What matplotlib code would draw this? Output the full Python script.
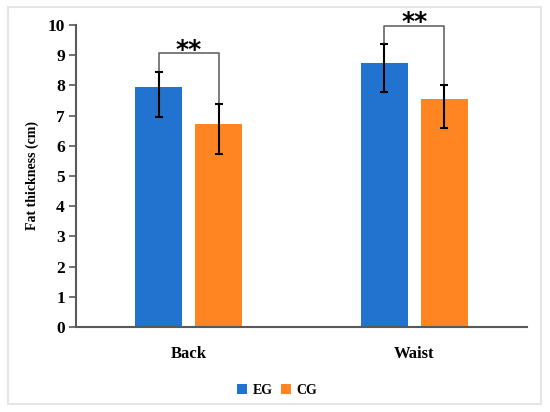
import numpy as np
import matplotlib
matplotlib.use("Agg")
import matplotlib.pyplot as plt
from matplotlib.patches import Rectangle

# data
sites = ["Back", "Waist"]
eg_mean = [7.96, 8.75]
eg_low = [6.96, 7.77]
eg_high = [8.43, 9.36]
cg_mean = [6.72, 7.56]
cg_low = [5.73, 6.59]
cg_high = [7.38, 8.02]
bracket_y = [9.07, 9.98]
stars = ["**", "**"]

blue = "#2273CF"
orange = "#FF8522"
spine_col = "#595959"

plt.rcParams['font.family'] = ['Liberation Serif', 'DejaVu Serif']
plt.rcParams['font.weight'] = 'bold'

fig = plt.figure(figsize=(5.5, 4.12), dpi=100)
ax = fig.add_axes([76 / 550, 85 / 412, 451 / 550, 302 / 412])

# light grey frame around the figure
fig.patches.append(Rectangle((8 / 550, 8 / 412), 533 / 550, 397 / 412,
                             transform=fig.transFigure, fill=False,
                             edgecolor="#e6e6e6", linewidth=1.5))

centers = np.array([0.5, 1.5])
off = 0.133
w = 0.21
x_eg = centers - off
x_cg = centers + off

eg_err = [np.array(eg_mean) - np.array(eg_low), np.array(eg_high) - np.array(eg_mean)]
cg_err = [np.array(cg_mean) - np.array(cg_low), np.array(cg_high) - np.array(cg_mean)]

ax.bar(x_eg, eg_mean, w, color=blue, label="EG", zorder=2)
ax.bar(x_cg, cg_mean, w, color=orange, label="CG", zorder=2)
ax.errorbar(x_eg, eg_mean, yerr=eg_err, fmt="none", ecolor="black",
            elinewidth=1.5, capsize=3, capthick=1.5, zorder=3)
ax.errorbar(x_cg, cg_mean, yerr=cg_err, fmt="none", ecolor="black",
            elinewidth=1.5, capsize=3, capthick=1.5, zorder=3)

# significance brackets, stars sit just above the bar of the bracket
for i in range(len(sites)):
    by = bracket_y[i]
    ax.plot([x_eg[i], x_eg[i], x_cg[i], x_cg[i]],
            [eg_high[i], by, by, cg_high[i]],
            color="#666666", linewidth=1.2, clip_on=False, zorder=1)
    ax.text(centers[i], by - 0.12, stars[i], ha="center", va="baseline",
            fontsize=18, fontweight="bold", family=["DejaVu Sans"],
            clip_on=False)

ax.set_xlim(0, 2)
ax.set_ylim(0, 10)
ax.set_yticks(range(0, 11))
ax.set_xticks(centers)
ax.set_xticklabels(sites, fontsize=12, fontweight="bold")
ax.tick_params(axis="x", length=0, pad=14)
ax.tick_params(axis="y", length=5, width=1.2, color=spine_col, labelsize=12.5, pad=3)
for lab in ax.get_yticklabels():
    lab.set_fontweight("bold")

for s in ["top", "right"]:
    ax.spines[s].set_visible(False)
for s in ["left", "bottom"]:
    ax.spines[s].set_color(spine_col)
    ax.spines[s].set_linewidth(1.5)

ax.set_ylabel("Fat thickness (cm)", fontsize=10, fontweight="bold", labelpad=6)

ax.legend(loc="center", bbox_to_anchor=(277 / 550, 22 / 412),
          bbox_transform=fig.transFigure, ncol=2, frameon=False,
          handlelength=0.7, handleheight=0.7, handletextpad=0.4,
          columnspacing=0.6, prop={"weight": "bold", "size": 10})

fig.savefig("out.png", dpi=100)
